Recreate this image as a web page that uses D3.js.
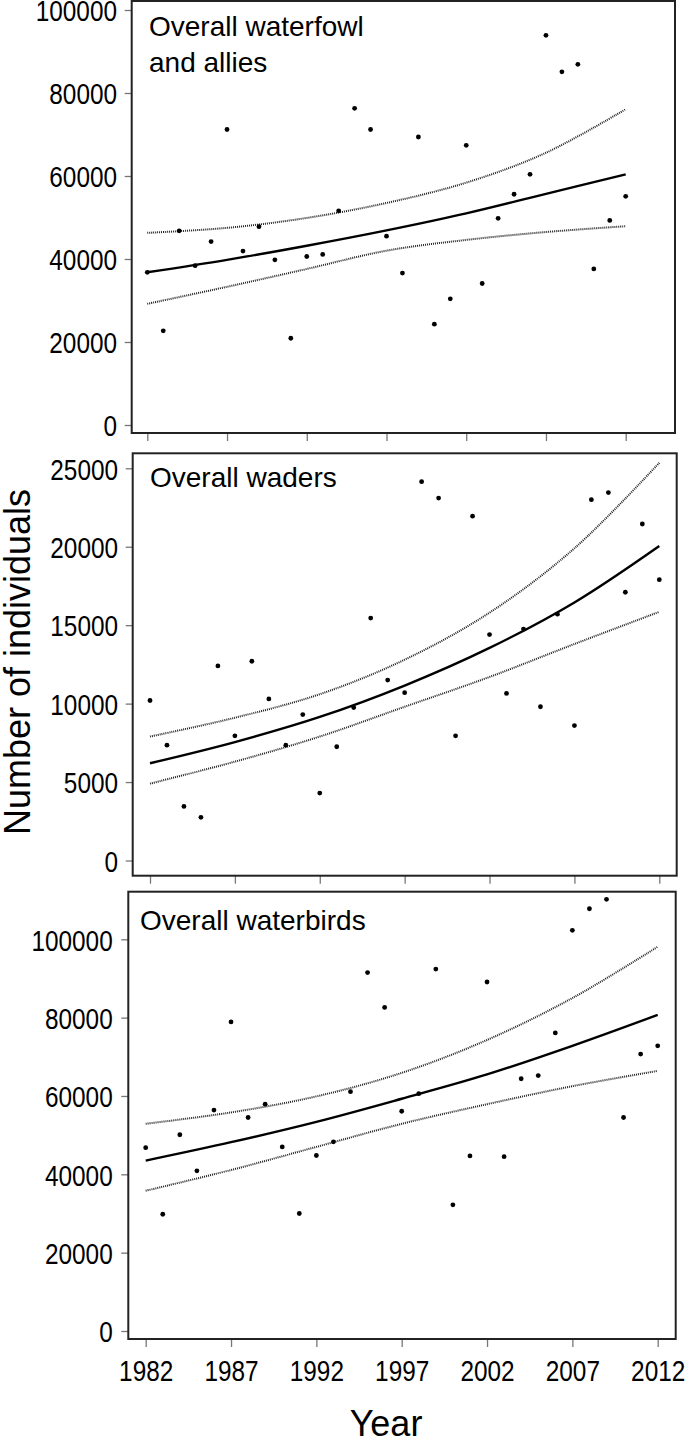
<!DOCTYPE html>
<html>
<head>
<meta charset="utf-8">
<script src="https://cdn.jsdelivr.net/npm/d3@7"></script>
<style>
  body { margin: 0; background: #fff; }
  svg { display: block; }
  text { font-family: "Liberation Sans", Arial, Helvetica, sans-serif; fill: #000; }
</style>
</head>
<body>
<svg id="chart"></svg>
<script>
// survey years
const years = [1982, 1983, 1984, 1985, 1986, 1987, 1988, 1989, 1990, 1991,
  1992, 1993, 1994, 1995, 1996, 1997, 1998, 1999, 2000, 2001,
  2002, 2003, 2004, 2005, 2006, 2007, 2008, 2009, 2010, 2011, 2012];

// counts
const waterfowl = [36800, 22700, 46800, 38400, 44200, 71200, 41900, 47800, 39800, 20900,
  40600, 41100, 51600, 76300, 71200, 45500, 36600, 69400, 24300, 30400,
  67400, 34100, 49800, 55600, 60400, 93900, 85100, 86900, 37600, 49300, 55100];
const waders = [10200, 7350, 3450, 2750, 12400, 7950, 12700, 10300, 7350, 9300,
  4300, 7250, 9750, 15450, 11500, 10700, 24150, 23100, 7950, 21950,
  14400, 10650, 14750, 9800, 15700, 8600, 23000, 23450, 17100, 21450, 17900];
const waterbirds = [46800, 29800, 50100, 40900, 56400, 78900, 54500, 57900, 47000, 30000,
  44800, 48300, 61100, 91500, 82600, 56100, 60600, 92400, 32200, 44700,
  89100, 44500, 64400, 65200, 76100, 102300, 107800, 110200, 54500, 70700, 72800];

// fitted trend and 95% band, read at the tick years
const fitYears = [1982, 1987, 1992, 1997, 2002, 2007, 2012];
const waterfowlFit = [36800, 39800, 43200, 46900, 51000, 55700, 60400];
const waterfowlUpper = [46300, 47500, 49900, 53500, 58400, 65600, 76100];
const waterfowlLower = [29200, 33300, 37600, 42000, 44600, 46500, 47900];
const wadersFit = [6200, 7550, 9150, 11150, 13550, 16450, 20050];
const wadersUpper = [7900, 9100, 10600, 12800, 15800, 19900, 25350];
const wadersLower = [4900, 6300, 7900, 9800, 11700, 13800, 15850];
const waterbirdsFit = [43500, 48200, 53400, 59300, 65500, 72800, 80700];
const waterbirdsUpper = [52900, 55800, 59900, 65900, 74300, 85000, 98100];
const waterbirdsLower = [35800, 41100, 47000, 52900, 57900, 62500, 66400];

// axis ticks
const xTicks = [1982, 1987, 1992, 1997, 2002, 2007, 2012];
const yTicksBig = [0, 20000, 40000, 60000, 80000, 100000];
const yTicksWaders = [0, 5000, 10000, 15000, 20000, 25000];

const titles = [["Overall waterfowl", "and allies"], ["Overall waders"], ["Overall waterbirds"]];

const width = 685, height = 1440;
const svg = d3.select("#chart").attr("width", width).attr("height", height);

// tick labels in the original are a narrow face
const tickFont = 29, squeeze = 0.84;

// panel boxes (frame) and where the first/last tick sit
const panels = [
  { box: [131.7, 1, 675, 433], x: [147.3, 625.7], y: [425, 10], yMax: 100000,
    vals: waterfowl, fit: waterfowlFit, up: waterfowlUpper, lo: waterfowlLower,
    yTicks: yTicksBig, title: titles[0], tx: 149, ty: 36, labelRight: 117, xLabels: false },
  { box: [132.7, 453.3, 676.7, 875.7], x: [150, 659.3], y: [860.5, 468.3], yMax: 25000,
    vals: waders, fit: wadersFit, up: wadersUpper, lo: wadersLower,
    yTicks: yTicksWaders, title: titles[1], tx: 150, ty: 487, labelRight: 118, xLabels: false },
  { box: [128.3, 891.7, 675.7, 1339], x: [145.7, 657.7], y: [1331, 939.3], yMax: 100000,
    vals: waterbirds, fit: waterbirdsFit, up: waterbirdsUpper, lo: waterbirdsLower,
    yTicks: yTicksBig, title: titles[2], tx: 140, ty: 930, labelRight: 112.7, xLabels: true }
];

panels.forEach(p => drawPanel(p));

function drawPanel(p) {
  const [x0, y0, x1, y1] = p.box;
  const x = d3.scaleLinear().domain([1982, 2012]).range(p.x);
  const y = d3.scaleLinear().domain([0, p.yMax]).range(p.y);
  const g = svg.append("g");

  // y axis ticks (outside, left)
  const yAx = d3.axisLeft(y).tickValues(p.yTicks).tickSize(7).tickFormat(d3.format("d"));
  const ya = g.append("g").attr("transform", `translate(${x0},0)`).call(yAx);
  ya.select(".domain").remove();
  ya.selectAll(".tick line").attr("stroke", "#777").attr("stroke-width", 1.3);
  ya.selectAll(".tick text")
    .attr("transform", `scale(${squeeze},1)`)
    .attr("x", (p.labelRight - x0) / squeeze)
    .attr("dy", "0.37em")
    .attr("font-size", tickFont)
    .attr("font-family", null)
    .attr("fill", "#000");

  // x axis ticks (outside, bottom)
  const xAx = d3.axisBottom(x).tickValues(xTicks).tickSize(8).tickFormat(d3.format("d"));
  const xa = g.append("g").attr("transform", `translate(0,${y1})`).call(xAx);
  xa.select(".domain").remove();
  xa.selectAll(".tick line").attr("stroke", "#777").attr("stroke-width", 1.3);
  if (p.xLabels) {
    xa.selectAll(".tick text")
      .attr("transform", `scale(${squeeze},1)`)
      .attr("font-size", tickFont).attr("font-family", null).attr("fill", "#000")
      .attr("dy", null).attr("y", 1381 - y1);
  } else {
    xa.selectAll(".tick text").remove();
  }

  // frame
  g.append("rect")
    .attr("x", x0).attr("y", y0)
    .attr("width", x1 - x0).attr("height", y1 - y0)
    .attr("fill", "none").attr("stroke", "#222").attr("stroke-width", 2);

  // fitted curve and band
  const line = d3.line()
    .x((d, i) => x(fitYears[i]))
    .y(d => y(d))
    .curve(d3.curveCatmullRom);

  [p.up, p.lo].forEach(arr => {
    g.append("path").datum(arr)
      .attr("d", line)
      .attr("fill", "none")
      .attr("stroke", "#222")
      .attr("stroke-width", 2)
      .attr("stroke-dasharray", "1,1");
  });
  g.append("path").datum(p.fit)
    .attr("d", line)
    .attr("fill", "none")
    .attr("stroke", "#000")
    .attr("stroke-width", 2.4);

  // observed counts
  g.selectAll("circle.pt")
    .data(p.vals)
    .join("circle")
    .attr("class", "pt")
    .attr("cx", (d, i) => x(years[i]))
    .attr("cy", d => y(d))
    .attr("r", 2.4)
    .attr("fill", "#000");

  // panel title
  const t = g.append("text").attr("font-size", 28);
  p.title.forEach((s, i) => {
    t.append("tspan").attr("x", p.tx).attr("y", p.ty + i * 35.7).text(s);
  });
}

// shared axis titles
svg.append("text")
  .attr("transform", "translate(30,662) rotate(-90)")
  .attr("text-anchor", "middle")
  .attr("font-size", 36)
  .text("Number of individuals");

svg.append("text")
  .attr("x", 386).attr("y", 1436)
  .attr("text-anchor", "middle")
  .attr("font-size", 36)
  .text("Year");
</script>
</body>
</html>
